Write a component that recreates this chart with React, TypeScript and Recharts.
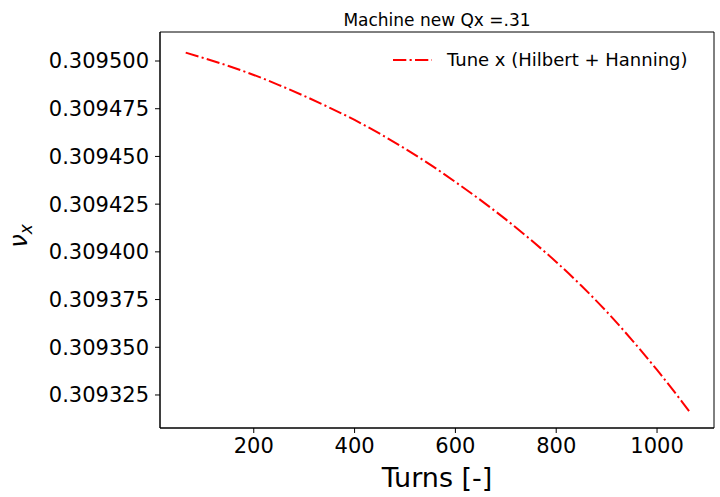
import { LineChart, Line, XAxis, YAxis, Label, ReferenceArea } from 'recharts'

const turns = [65, 100, 150, 200, 250, 300, 350, 400, 450, 500, 550, 600, 650, 700, 750, 800, 850, 900, 950, 1000, 1050, 1065]
const tuneX = [
  0.3095044, 0.3095016, 0.3094974, 0.3094927, 0.3094874, 0.3094817, 0.3094756, 0.3094691,
  0.3094619, 0.3094541, 0.3094457, 0.3094366, 0.3094271, 0.309417, 0.3094062, 0.3093947,
  0.3093822, 0.3093687, 0.3093539, 0.3093381, 0.3093213, 0.3093161,
]
const xTicks = [200, 400, 600, 800, 1000]
const yTicks = [0.309325, 0.30935, 0.309375, 0.3094, 0.309425, 0.30945, 0.309475, 0.3095]

const seriesName = 'Tune x (Hilbert + Hanning)'
const title = 'Machine new Qx =.31'

const data = turns.map((t, i) => ({ t, v: tuneX[i] }))

const font = '"DejaVu Sans", sans-serif'
const xDomain = [14, 1113]
const yDomain = [0.3093077, 0.3095152]
const dash = '13.3 3.3 2.1 3.3'

// legend drawn on top of the chart, no frame like the matplotlib one
function LegendBox() {
  return (
    <svg width={330} height={30} style={{ position: 'absolute', left: 385, top: 45 }}>
      <line x1={8} x2={47} y1={15} y2={15} stroke="#ff0000" strokeWidth={2} strokeDasharray={dash} />
      <text x={62} y={21} fontSize={18} fontFamily={font} fill="#000">
        {seriesName}
      </text>
    </svg>
  )
}

function YLabel() {
  return (
    <text
      x={27}
      y={236}
      transform="rotate(-90, 27, 236)"
      textAnchor="middle"
      fontFamily={font}
      fontStyle="italic"
      fontSize={24}
      fill="#000"
    >
      ν
      <tspan dy={5} fontSize={17}>
        x
      </tspan>
    </text>
  )
}

export default function App() {
  return (
    <div style={{ position: 'absolute', left: 0, top: 0, width: 720, height: 497, background: '#fff' }}>
      <div
        style={{
          position: 'absolute',
          left: 160,
          width: 554,
          top: 10,
          textAlign: 'center',
          fontFamily: font,
          fontSize: 17,
          lineHeight: '20px',
          color: '#000',
        }}
      >
        {title}
      </div>
      <LineChart width={720} height={497} data={data} margin={{ top: 32, right: 6, bottom: 0, left: 0 }}>
        <XAxis
          dataKey="t"
          type="number"
          domain={xDomain}
          allowDataOverflow
          ticks={xTicks}
          height={69}
          tickSize={5}
          tickMargin={5}
          stroke="#000"
          tick={{ fill: '#000', fontSize: 21, fontFamily: font }}
        >
          <Label value="Turns [-]" position="insideBottom" offset={10} fontSize={27} fontFamily={font} fill="#000" />
        </XAxis>
        <YAxis
          type="number"
          domain={yDomain}
          allowDataOverflow
          ticks={yTicks}
          width={160}
          tickSize={5}
          tickMargin={6}
          stroke="#000"
          tickFormatter={(v: number) => v.toFixed(6)}
          tick={{ fill: '#000', fontSize: 21, fontFamily: font }}
        >
          <Label content={<YLabel />} />
        </YAxis>
        <ReferenceArea
          x1={xDomain[0]}
          x2={xDomain[1]}
          y1={yDomain[0]}
          y2={yDomain[1]}
          fill="none"
          stroke="#000"
          strokeWidth={1}
          ifOverflow="visible"
        />
        <Line
          dataKey="v"
          name={seriesName}
          type="monotone"
          stroke="#ff0000"
          strokeWidth={2}
          strokeDasharray={dash}
          dot={false}
          isAnimationActive={false}
        />
      </LineChart>
      <LegendBox />
    </div>
  )
}
